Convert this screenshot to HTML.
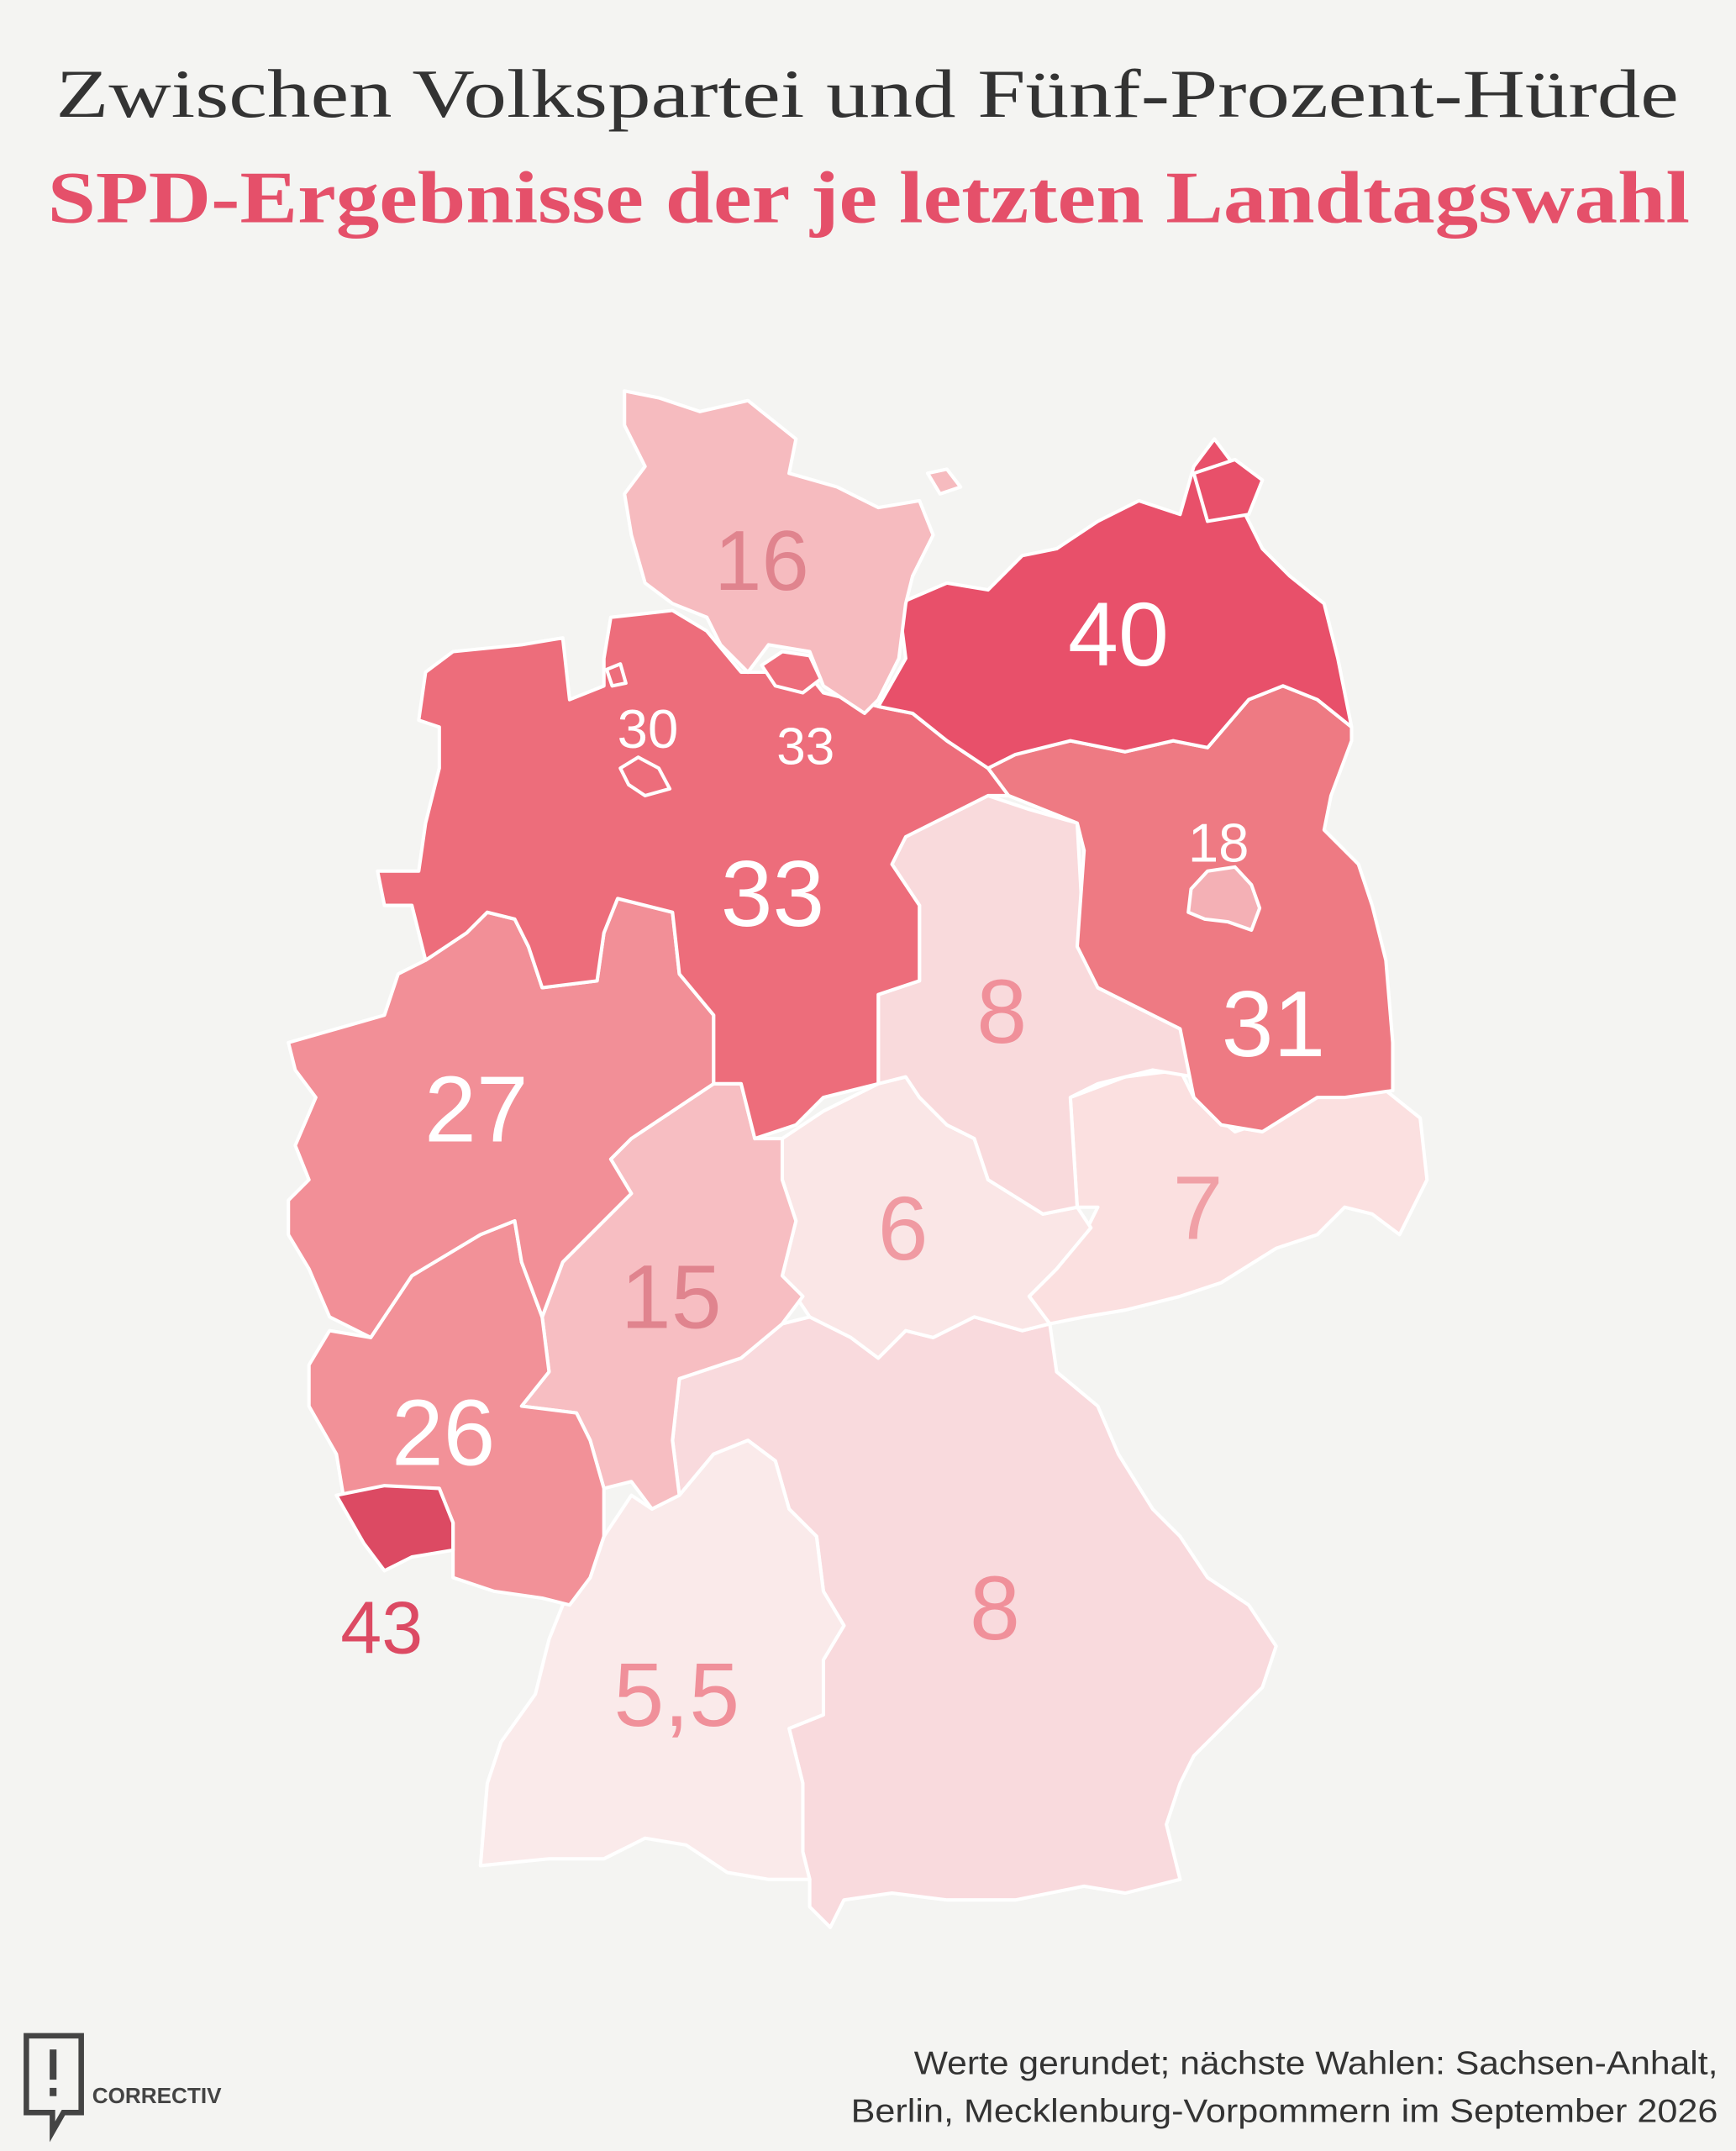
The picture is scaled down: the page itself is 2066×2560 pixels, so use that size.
<!DOCTYPE html>
<html><head><meta charset="utf-8"><style>
html,body{margin:0;padding:0;background:#f4f4f2;}
svg{display:block;}
</style></head><body>
<svg width="2066" height="2560" viewBox="0 0 1265 1568" xmlns="http://www.w3.org/2000/svg">
<rect width="1265" height="1568" fill="#f4f4f2"/>
<text x="632" y="85" text-anchor="middle" font-family="Liberation Serif, DejaVu Serif, serif" font-size="50" fill="#333" textLength="1183" lengthAdjust="spacingAndGlyphs">Zwischen Volkspartei und Fünf-Prozent-Hürde</text>
<text x="633" y="162" text-anchor="middle" font-family="Liberation Serif, DejaVu Serif, serif" font-weight="bold" font-size="54" fill="#e5506a" textLength="1197" lengthAdjust="spacingAndGlyphs">SPD-Ergebnisse der je letzten Landtagswahl</text>

<g stroke="#fff" stroke-width="2.5" stroke-linejoin="round">
<!-- Bavaria -->
<polygon fill="#f9dadd" points="495,1005 540,990 570,965 590,960 620,975 640,990 660,970 680,975 710,960 745,970 765,965 770,1000 800,1025 815,1060 840,1100 860,1120 880,1150 910,1170 930,1200 920,1230 890,1260 870,1280 860,1300 850,1330 860,1370 820,1380 790,1375 740,1385 690,1385 650,1380 615,1385 605,1405 590,1390 590,1370 585,1350 585,1300 575,1260 600,1250 600,1210 615,1185 600,1160 595,1120 575,1100 565,1065 545,1050 520,1060 495,1090 490,1050"/>
<!-- BW -->
<polygon fill="#faeaea" points="410,1170 430,1150 440,1120 460,1090 475,1100 495,1090 520,1060 545,1050 565,1065 575,1100 595,1120 600,1160 615,1185 600,1210 600,1250 575,1260 585,1300 585,1350 590,1370 560,1370 530,1365 500,1345 470,1340 440,1355 400,1355 350,1360 355,1300 365,1270 390,1235 400,1195"/>
<!-- Saxony -->
<polygon fill="#fbe0e0" points="780,800 820,785 860,780 870,800 900,825 930,815 960,800 1010,795 1035,815 1040,860 1020,900 1000,885 980,880 960,900 930,910 890,935 860,945 820,955 790,960 765,965 750,945 770,925 790,900 800,880 785,880"/>
<!-- Thuringia -->
<polygon fill="#fae6e6" points="570,830 600,810 640,790 660,785 690,820 710,830 720,860 760,885 785,880 795,895 770,925 750,945 765,965 745,970 710,960 680,975 660,970 640,990 620,975 590,960 570,930 580,890 570,860"/>
<!-- Saxony-Anhalt -->
<polygon fill="#f9dadc" points="720,580 750,590 785,600 790,690 800,720 830,735 860,750 870,785 840,780 800,790 780,800 785,880 760,885 720,860 710,830 690,820 670,800 660,785 640,790 640,725 670,715 670,660 650,630 660,605 690,595"/>
<!-- Hessen -->
<polygon fill="#f7bec2" points="460,830 490,810 520,790 540,790 550,830 570,830 570,860 580,890 570,930 585,945 570,965 540,990 495,1005 490,1050 495,1090 475,1100 460,1080 440,1085 430,1050 420,1030 380,1025 400,1000 395,960 410,920 440,890 460,870 445,845"/>
<!-- RP -->
<polygon fill="#f29198" points="240,970 270,975 300,930 350,900 375,890 380,920 395,960 400,1000 380,1025 420,1030 430,1050 440,1085 440,1120 430,1150 415,1170 395,1165 360,1160 330,1150 330,1110 320,1085 280,1085 250,1090 245,1060 225,1025 225,995"/>
<!-- Saarland -->
<polygon fill="#dc4a63" points="245,1090 280,1083 320,1085 330,1110 330,1130 300,1135 280,1145 265,1125"/>
<!-- NRW -->
<polygon fill="#f28f97" points="210,760 245,750 280,740 290,710 310,700 340,680 355,665 375,670 385,690 395,720 435,715 440,680 450,655 490,665 495,710 520,740 520,790 490,810 460,830 445,845 460,870 440,890 410,920 395,960 380,920 375,890 350,900 300,930 270,975 240,960 225,925 210,900 210,875 225,860 215,835 230,800 215,780"/>
<!-- Niedersachsen -->
<polygon fill="#ed6d7b" points="445,450 490,445 515,460 540,490 560,490 580,480 600,505 640,515 665,520 690,540 720,560 735,580 720,580 700,590 680,600 660,610 650,630 670,660 670,715 640,725 640,790 600,800 580,820 550,830 540,790 520,790 520,740 495,710 490,665 450,655 440,680 435,715 395,720 385,690 375,670 355,665 340,680 310,700 300,660 280,660 275,635 305,635 310,600 320,560 320,530 305,525 310,490 330,475 380,470 410,465 415,510 440,500 440,480"/>
<!-- Brandenburg -->
<polygon fill="#ee7a83" points="720,560 740,550 780,540 820,548 855,540 880,545 910,510 935,500 960,510 985,530 985,540 970,580 965,605 990,630 1000,660 1010,700 1015,760 1015,795 980,800 960,800 920,825 890,820 870,800 860,750 830,735 800,720 785,690 790,620 785,600 760,590 735,580"/>
<!-- Berlin -->
<polygon fill="#f4b0b5" points="868,648 880,635 900,632 912,645 918,662 912,678 895,672 878,670 866,665"/>
<!-- MV -->
<polygon fill="#e8506a" points="655,440 690,425 720,430 745,405 770,400 800,380 830,365 860,375 870,340 885,320 900,340 905,370 920,400 940,420 965,440 975,480 985,530 960,510 935,500 910,510 880,545 855,540 820,548 780,540 740,550 720,560 690,540 665,520 640,515 660,480"/>
<polygon fill="#e8506a" points="870,345 900,335 920,350 910,375 880,380"/>
<!-- SH -->
<polygon fill="#f6bbbf" points="455,285 480,290 510,300 545,292 580,320 575,345 610,355 640,370 670,365 680,390 665,420 660,440 655,480 640,510 630,520 600,500 590,475 560,470 545,490 525,470 515,450 490,440 470,425 460,390 455,360 470,340 455,310"/>
<polygon fill="#f6bbbf" points="676,345 690,342 700,355 685,360"/>
<!-- Hamburg -->
<polygon fill="#ed6d7b" points="555,485 570,475 590,478 598,495 585,505 565,500"/>
<!-- Bremen -->
<polygon fill="#ed6d7b" points="452,560 465,552 480,560 488,575 470,580 458,572"/>
<polygon fill="#ed6d7b" points="442,488 452,484 456,498 446,500"/>
</g>

<g font-family="Liberation Sans, DejaVu Sans, sans-serif" text-anchor="middle">
<text x="555" y="430" font-size="62" fill="#e0848e">16</text>
<text x="815" y="485" font-size="66" fill="#fff">40</text>
<text x="472" y="545" font-size="40" fill="#fff">30</text>
<text x="587" y="557" font-size="38" fill="#fff">33</text>
<text x="563" y="675" font-size="68" fill="#fff">33</text>
<text x="888" y="628" font-size="40" fill="#fff">18</text>
<text x="928" y="770" font-size="68" fill="#fff">31</text>
<text x="730" y="760" font-size="66" fill="#f0909a">8</text>
<text x="347" y="832" font-size="68" fill="#fff">27</text>
<text x="873" y="903" font-size="66" fill="#f0a0a6">7</text>
<text x="658" y="918" font-size="66" fill="#f09aa2">6</text>
<text x="489" y="968" font-size="66" fill="#e0848e">15</text>
<text x="323" y="1068" font-size="68" fill="#fff">26</text>
<text x="278" y="1205" font-size="54" fill="#dc4a63">43</text>
<text x="725" y="1195" font-size="66" fill="#f0909a">8</text>
<text x="493" y="1258" font-size="66" fill="#f0909a">5,5</text>
</g>

<g font-family="Liberation Sans, DejaVu Sans, sans-serif" font-size="24" fill="#333">
<text x="666" y="1512" textLength="586" lengthAdjust="spacingAndGlyphs">Werte gerundet; nächste Wahlen: Sachsen-Anhalt,</text>
<text x="620" y="1547" textLength="632" lengthAdjust="spacingAndGlyphs">Berlin, Mecklenburg-Vorpommern im September 2026</text>
</g>
<g>
<path d="M19,1484 H59 V1540 H46 L38,1554 V1540 H19 Z" fill="none" stroke="#444" stroke-width="4"/>
<rect x="36" y="1494" width="5" height="22" fill="#444"/>
<rect x="36" y="1522" width="5" height="6" fill="#444"/>
<text x="67" y="1533" font-family="Liberation Sans, sans-serif" font-weight="bold" font-size="16" fill="#444">CORRECTIV</text>
</g>
</svg>
</body></html>
